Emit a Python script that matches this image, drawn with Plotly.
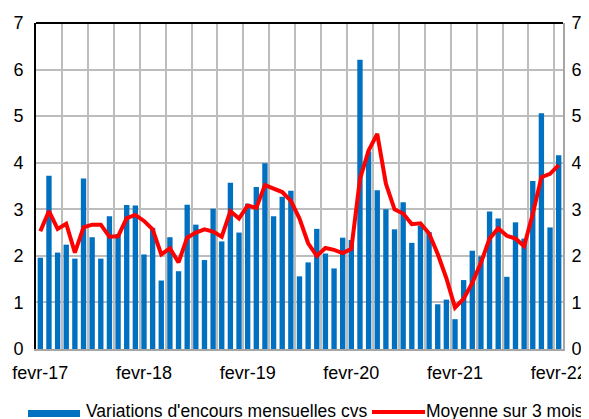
import plotly.graph_objects as go

# Monthly categories: fevr-17 .. fevr-22 (61 months)
months = list(range(61))
tick_positions = [0, 12, 24, 36, 48, 60]
tick_labels = ["fevr-17", "fevr-18", "fevr-19", "fevr-20", "fevr-21", "fevr-22"]

# Variations d'encours mensuelles cvs
bars = [1.96, 3.72, 2.07, 2.24, 1.94, 3.66, 2.40, 1.94, 2.85, 2.47,
        3.09, 3.08, 2.03, 2.60, 1.47, 2.40, 1.67, 3.10, 2.67, 1.91,
        3.01, 2.31, 3.57, 2.50, 3.12, 3.48, 3.99, 2.85, 3.27, 3.40,
        1.56, 1.86, 2.58, 2.05, 1.73, 2.39, 2.34, 6.21, 4.24, 3.41,
        3.00, 2.57, 3.15, 2.28, 2.65, 2.51, 0.96, 1.06, 0.64, 1.48,
        2.11, 1.99, 2.95, 2.80, 1.55, 2.72, 2.37, 3.61, 5.06, 2.61,
        4.16]

# Moyenne sur 3 mois
avg3 = [2.53, 2.96, 2.58, 2.69, 2.07, 2.61, 2.67, 2.67, 2.41, 2.42,
        2.81, 2.88, 2.75, 2.57, 2.03, 2.16, 1.86, 2.39, 2.50, 2.57,
        2.52, 2.41, 2.96, 2.80, 3.08, 3.03, 3.52, 3.45, 3.37, 3.18,
        2.80, 2.27, 2.00, 2.17, 2.13, 2.06, 2.15, 3.65, 4.26, 4.62,
        3.55, 3.00, 2.91, 2.68, 2.70, 2.48, 2.04, 1.52, 0.89, 1.08,
        1.42, 1.85, 2.37, 2.59, 2.43, 2.37, 2.21, 2.90, 3.69, 3.76,
        3.95]

yticks = [0, 1, 2, 3, 4, 5, 6, 7]
grid_positions = [2.5 + 3 * k for k in range(20)]

FONT = "Liberation Sans, Arial, sans-serif"
GRID = "#BDBDBD"

fig = go.Figure()
fig.add_trace(go.Bar(x=months, y=bars, marker=dict(color="#0070C0", line=dict(width=0)),
                     width=0.62, name="Variations d'encours mensuelles cvs", showlegend=False))
fig.add_trace(go.Scatter(x=months, y=avg3, mode="lines", yaxis="y2",
                         line=dict(color="#FF0000", width=4), name="Moyenne sur 3 mois",
                         showlegend=False))

# page has an 8px body margin; figure is sized/offset to compensate
OFF = 8
W, H = 589 - OFF, 419 - OFF
# plot area in page pixels: x 36..563, y 23..349
PL, PR, PT, PB = 36, 563, 23, 349
L, T = PL - OFF, PT - OFF
R, B = W - (PR - OFF), H - (PB - OFF)

def px_x(p):
    return (p - PL) / (PR - PL)

def px_y(p):
    return (PB - p) / (PB - PT)

shapes = [
    # top border (black)
    dict(type="line", xref="paper", yref="paper", x0=0, x1=1, y0=1, y1=1,
         line=dict(color="#000000", width=2), layer="above"),
    # legend symbols
    dict(type="rect", xref="paper", yref="paper", x0=px_x(28), x1=px_x(80),
         y0=px_y(417), y1=px_y(410), fillcolor="#0070C0", line=dict(width=0)),
    dict(type="line", xref="paper", yref="paper", x0=px_x(372), x1=px_x(425),
         y0=px_y(412), y1=px_y(412), line=dict(color="#FF0000", width=4)),
]

LEG_FONT = dict(family=FONT, size=17.5, color="#000000")
annotations = [
    dict(text="Variations d'encours mensuelles cvs", xref="paper", yref="paper",
         x=px_x(84), y=px_y(411), xanchor="left", yanchor="middle", showarrow=False,
         font=LEG_FONT),
    dict(text="Moyenne sur 3 mois", xref="paper", yref="paper",
         x=px_x(424), y=px_y(411), xanchor="left", yanchor="middle", showarrow=False,
         font=LEG_FONT),
]

fig.update_layout(
    width=W, height=H,
    margin=dict(l=L, r=R, t=T, b=B, autoexpand=False),
    paper_bgcolor="#FFFFFF", plot_bgcolor="#FFFFFF",
    font=dict(family=FONT, size=18, color="#000000"),
    showlegend=False,
    bargap=0.38,
    xaxis=dict(range=[-0.5, 60.5], tickmode="array", tickvals=tick_positions,
               ticktext=tick_labels, showgrid=False, zeroline=False, automargin=False,
               showline=True, linecolor="#A6A6A6", linewidth=2,
               ticks="outside", ticklen=6, tickcolor="rgba(0,0,0,0)",
               minor=dict(tickmode="array", tickvals=grid_positions, showgrid=True,
                          gridcolor=GRID, gridwidth=2, ticks="")),
    yaxis=dict(range=[0, 7], tickmode="array", tickvals=yticks, showgrid=True,
               gridcolor=GRID, gridwidth=2, zeroline=False, automargin=False,
               showline=True, linecolor="#000000", linewidth=2,
               ticks="outside", ticklen=7, tickcolor="rgba(0,0,0,0)"),
    yaxis2=dict(range=[0, 7], tickmode="array", tickvals=yticks, overlaying="y",
                side="right", showgrid=False, zeroline=False, automargin=False,
                showline=True, linecolor="#A6A6A6", linewidth=2,
                ticks="outside", ticklen=3, tickcolor="rgba(0,0,0,0)"),
    shapes=shapes,
    annotations=annotations,
)

fig.write_html("out.html")
